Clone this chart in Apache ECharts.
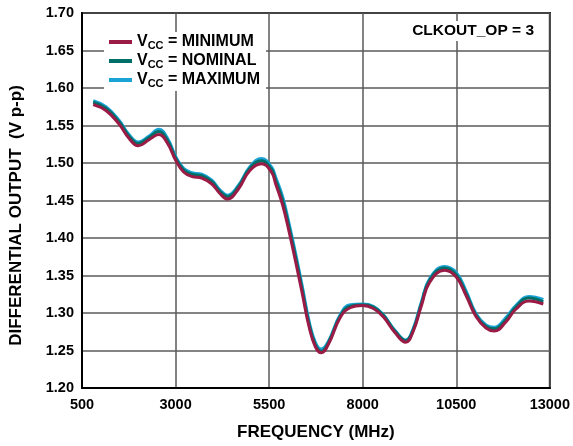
<!DOCTYPE html>
<html>
<head>
<meta charset="utf-8">
<script src="https://cdn.jsdelivr.net/npm/echarts@6/dist/echarts.min.js"></script>
<style>html,body{margin:0;padding:0;background:#fff}#c{width:573px;height:446px}</style>
</head>
<body>
<div id="c"></div>
<script>
var freq = [800,1140,1490,1755,2000,2290,2550,2775,3010,3215,3440,3700,3970,4190,4390,4675,4985,5295,5560,5675,5855,6030,6205,6385,6560,6735,6895,7090,7400,7665,8000,8285,8550,8860,9150,9345,9570,9790,10190,10500,10765,11030,11295,11515,11825,12090,12445,12825];
var vMin = [1.578,1.570,1.552,1.533,1.523,1.531,1.538,1.527,1.503,1.488,1.482,1.480,1.472,1.459,1.452,1.465,1.490,1.499,1.488,1.472,1.445,1.409,1.369,1.326,1.283,1.255,1.247,1.259,1.294,1.307,1.310,1.306,1.295,1.274,1.261,1.275,1.310,1.341,1.357,1.348,1.323,1.295,1.280,1.276,1.288,1.305,1.316,1.312];
var vNom = [1.581,1.573,1.555,1.536,1.526,1.534,1.542,1.531,1.506,1.491,1.485,1.483,1.475,1.462,1.455,1.468,1.493,1.503,1.492,1.477,1.451,1.415,1.375,1.331,1.287,1.258,1.249,1.261,1.296,1.309,1.311,1.308,1.297,1.276,1.263,1.277,1.313,1.344,1.360,1.351,1.326,1.297,1.282,1.279,1.291,1.308,1.320,1.315];
var vMax = [1.583,1.575,1.557,1.538,1.528,1.536,1.545,1.534,1.508,1.493,1.487,1.485,1.477,1.464,1.457,1.470,1.495,1.506,1.495,1.481,1.456,1.420,1.380,1.336,1.291,1.261,1.252,1.263,1.298,1.311,1.312,1.309,1.298,1.277,1.264,1.279,1.315,1.346,1.362,1.354,1.329,1.299,1.284,1.281,1.294,1.310,1.322,1.318];
var seriesNames = ['MINIMUM','NOMINAL','MAXIMUM'];
var colors = ['#9b1b47','#006f68','#1ba3d6'];
var xTicks = {min:500, max:13000, interval:2500};
var yTicks = {min:1.2, max:1.7, interval:0.05};

function pairs(v){ return freq.map(function(f,i){ return [f, v[i]]; }); }
var font = 'Liberation Sans, Arial, sans-serif';
var chart = echarts.init(document.getElementById('c'));
var mk = function(name, vals, color, z){
  return {name:name, type:'line', data:pairs(vals), smooth:0.45, symbol:'none', z:z,
    lineStyle:{color:color, width:3}, itemStyle:{color:color}};
};
chart.setOption({
  animation:false,
  grid:{left:80, right:22, top:13, bottom:58, show:true, borderColor:'#000', borderWidth:2, backgroundColor:'transparent'},
  xAxis:{type:'value', min:xTicks.min, max:xTicks.max, interval:xTicks.interval,
    name:'FREQUENCY (MHz)', nameLocation:'middle', nameGap:36,
    nameTextStyle:{fontFamily:font, fontWeight:'bold', fontSize:17, color:'#000'},
    axisLine:{show:true, lineStyle:{color:'#000', width:2}}, axisTick:{show:false},
    axisLabel:{fontFamily:font, fontWeight:'bold', fontSize:14.5, color:'#000', margin:9,
      formatter:function(v){ return String(v); }},
    splitLine:{show:true, lineStyle:{color:'#5a5a5a', width:1.5}}},
  yAxis:{type:'value', min:yTicks.min, max:yTicks.max, interval:yTicks.interval,
    name:'DIFFERENTIAL OUTPUT  (V p-p)', nameLocation:'middle', nameGap:57,
    nameTextStyle:{fontFamily:font, fontWeight:'bold', fontSize:17, color:'#000', padding:[0,30,0,0]},
    axisLine:{show:true, lineStyle:{color:'#000', width:2}}, axisTick:{show:false},
    axisLabel:{fontFamily:font, fontWeight:'bold', fontSize:14.5, color:'#000', margin:8,
      formatter:function(v){ return v.toFixed(2); }},
    splitLine:{show:true, lineStyle:{color:'#5a5a5a', width:1.5}}},
  legend:{orient:'vertical', left:104, top:32, itemWidth:23, itemHeight:4, itemGap:2,
    icon:'rect', backgroundColor:'#fff', padding:[2,6,2,5],
    data:seriesNames.slice(),
    formatter:function(n){ return '{v|V}{s|CC}{t| = ' + n + '}'; },
    textStyle:{fontFamily:font, fontWeight:'bold', fontSize:16, color:'#000',
      rich:{v:{fontFamily:font, fontWeight:'bold', fontSize:16, color:'#000'},
            s:{fontFamily:font, fontWeight:'bold', fontSize:11, color:'#000', padding:[7,0,0,0]},
            t:{fontFamily:font, fontWeight:'bold', fontSize:16, color:'#000'}}}},
  graphic:[{type:'text', right:36, top:21, z:100,
    style:{text:'CLKOUT_OP = 3', fontFamily:font, fontWeight:'bold', fontSize:15.5, fill:'#000',
      backgroundColor:'#fff', padding:[2,3,2,3]}}],
  series:[mk(seriesNames[2], vMax, colors[2], 2), mk(seriesNames[1], vNom, colors[1], 3), mk(seriesNames[0], vMin, colors[0], 4)]
});
</script>
</body>
</html>
